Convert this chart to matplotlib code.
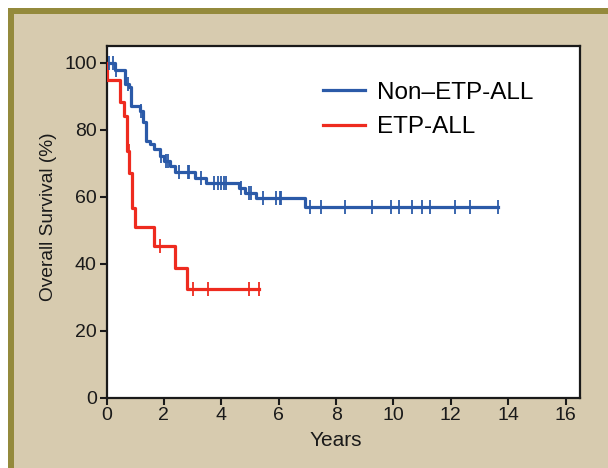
import numpy as np
import matplotlib
matplotlib.use("Agg")
import matplotlib.pyplot as plt
from matplotlib.patches import Rectangle

plt.rcParams['font.family'] = ['Liberation Sans', 'DejaVu Sans']

# Non-ETP-ALL: step times (years) and survival (%) after each step
non_t = [0, 0.28, 0.63, 0.78, 0.86, 1.15, 1.27, 1.38, 1.50, 1.67, 1.85, 2.02, 2.20, 2.37,
         3.07, 3.47, 4.63, 4.81, 5.22, 6.90, 13.63]
non_s = [100, 97.7, 93.7, 92.7, 87.2, 85.7, 82.2, 76.7, 75.7, 74.2, 72.2, 70.7, 69.2, 67.4,
         65.7, 64.2, 62.7, 61.2, 59.7, 56.8, 56.8]
non_cens = [0.10, 0.22, 0.34, 0.74, 1.21, 1.91, 2.08, 2.14, 2.54, 2.83, 2.89, 3.30, 3.76, 3.88,
            4.00, 4.11, 4.17, 4.69, 4.98, 5.04, 5.45, 5.91, 6.03, 6.09, 7.08, 7.49, 8.30,
            9.24, 9.93, 10.21, 10.63, 10.98, 11.26, 12.13, 12.65, 13.63]

# ETP-ALL
etp_t = [0, 0.03, 0.48, 0.60, 0.71, 0.80, 0.89, 1.01, 1.67, 2.37, 2.80, 5.33]
etp_s = [100, 94.7, 88.2, 84.2, 73.5, 67.2, 56.7, 50.9, 45.3, 38.8, 32.3, 32.3]
etp_cens = [0.79, 1.87, 3.01, 3.55, 4.95, 5.30]

blue = '#2b5aa8'
red = '#ee2b1f'

fig = plt.figure(figsize=(6.08, 4.68), dpi=100, facecolor='white')
W, H = 608, 468
# beige panel with olive border on top and left
fig.patches.append(Rectangle((8 / W, 0), 1, 1 - 8 / H, transform=fig.transFigure,
                             facecolor='#d7cbaf', edgecolor='none', zorder=-3))
fig.patches.append(Rectangle((8 / W, 0), 5.5 / W, 1 - 8 / H, transform=fig.transFigure,
                             facecolor='#948a3c', edgecolor='none', zorder=-2))
fig.patches.append(Rectangle((8 / W, 1 - 14 / H), 1, 6 / H, transform=fig.transFigure,
                             facecolor='#948a3c', edgecolor='none', zorder=-2))

ax = fig.add_axes([106.5 / W, (H - 397.5) / H, (580 - 106.5) / W, (397.5 - 46) / H])
ax.set_facecolor('white')


def surv_at(ts, ss, x):
    i = np.searchsorted(ts, x, side='right') - 1
    return np.array(ss)[i]


ax.step(non_t, non_s, where='post', color=blue, lw=2.3, label='Non\u2013ETP-ALL', zorder=3)
ax.step(etp_t, etp_s, where='post', color=red, lw=2.3, label='ETP-ALL', zorder=3)
ax.plot(non_cens, surv_at(non_t, non_s, non_cens), ls='none', marker='|', ms=10, mew=1.3,
        color=blue, zorder=4)
ax.plot(etp_cens, surv_at(etp_t, etp_s, etp_cens), ls='none', marker='|', ms=10, mew=1.3,
        color=red, zorder=4)

ax.set_xlim(0, 16.5)
ax.set_ylim(0, 105)
ax.set_xticks(range(0, 17, 2))
ax.set_yticks(range(0, 101, 20))
for sp in ax.spines.values():
    sp.set_linewidth(1.6)
    sp.set_color('#1a1a1a')
ax.tick_params(direction='out', length=5, width=1.5, labelsize=14, colors='#1a1a1a', pad=2)
ax.set_xlabel('Years', fontsize=15, color='#1a1a1a')
ax.set_ylabel('Overall Survival (%)', fontsize=13.8, color='#1a1a1a')
ax.xaxis.set_label_coords(0.484, -0.095)
ax.yaxis.set_label_coords(-0.105, 0.515)

ax.legend(loc='upper left', bbox_to_anchor=(0.41, 0.96), frameon=False, fontsize=17.5,
          handlelength=1.75, handletextpad=0.5, labelspacing=0.5)

fig.savefig('out.png', dpi=100, facecolor=fig.get_facecolor())
